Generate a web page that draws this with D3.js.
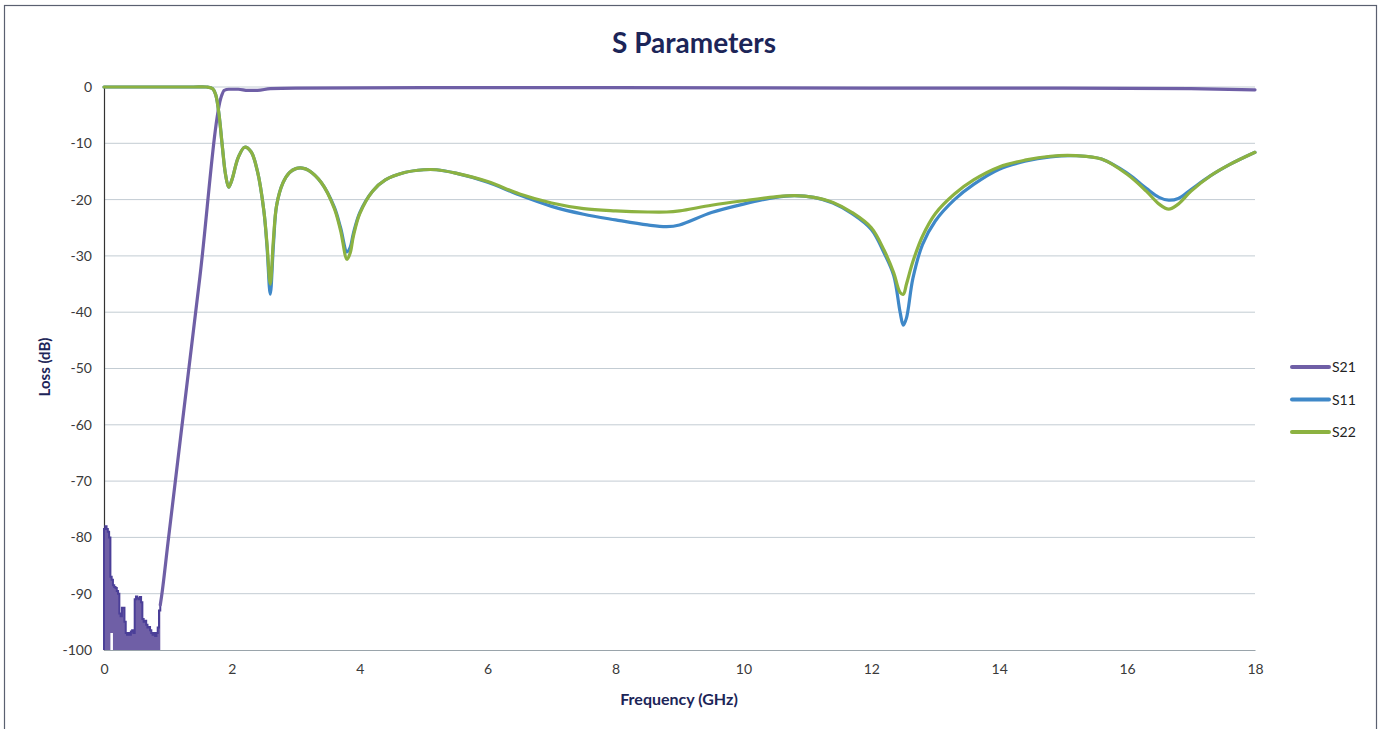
<!DOCTYPE html>
<html>
<head>
<meta charset="utf-8">
<script src="https://cdn.jsdelivr.net/npm/d3@7"></script>
<style>
  body { margin: 0; background: #fff; }
  svg { display: block; font-family: Lato, "Open Sans", sans-serif; }
</style>
</head>
<body>
<div id="chart"></div>
<script>
// Axis ticks
var xTicks = [0, 2, 4, 6, 8, 10, 12, 14, 16, 18],
    yTicks = [0, -10, -20, -30, -40, -50, -60, -70, -80, -90, -100];

// S21 noise floor below 0.9 GHz (peak / floor of each sample)
var noiseFreq  = [0.00, 0.02, 0.04, 0.06, 0.08, 0.10, 0.12, 0.14, 0.16, 0.18,
                  0.20, 0.22, 0.24, 0.26, 0.28, 0.30, 0.32, 0.34, 0.36, 0.38,
                  0.40, 0.42, 0.44, 0.46, 0.48, 0.50, 0.52, 0.54, 0.56, 0.58,
                  0.60, 0.62, 0.64, 0.66, 0.68, 0.70, 0.72, 0.74, 0.76, 0.78,
                  0.80, 0.82, 0.84, 0.86, 0.88],
    noisePeak  = [-78.5, -78, -78.5, -79, -80, -87, -87.5, -88.5, -88.8, -89,
                  -89.5, -90, -93.5, -94, -92.5, -92.5, -95, -97, -97.3, -97,
                  -97.3, -96.7, -96.5, -97, -91, -90.5, -90.8, -91, -90.6, -91.5,
                  -94.5, -95, -94.8, -95.5, -96, -95.9, -96.5, -97, -97.3, -97,
                  -97.5, -97, -96, -93, -92],
    noiseFloor = [-100, -100, -100, -100, -100, -97, -97, -100, -100, -100,
                  -100, -100, -100, -100, -100, -100, -100, -100, -100, -100,
                  -100, -100, -100, -100, -100, -100, -100, -100, -100, -100,
                  -100, -100, -100, -100, -100, -100, -100, -100, -100, -100,
                  -100, -100, -100, -100, -100];

// S21 above the noise floor
var s21Freq = [0.88, 0.90, 1.00, 1.20, 1.50, 1.84, 1.88, 1.95, 2.10, 2.25, 2.40, 2.60, 3.00, 5.00, 8.00, 12.0, 15.0, 17.0, 18.0],
    s21Loss = [-92, -90.5, -81, -62, -33.7, -1.5, -0.6, -0.4, -0.4, -0.6, -0.6, -0.3, -0.2, -0.1, -0.1, -0.2, -0.2, -0.3, -0.5];

// S11 / S22 share one frequency grid
var refFreq = [0, 0.8, 1.4, 1.6, 1.7, 1.75, 1.8, 1.85, 1.9, 1.95, 2.0, 2.1, 2.2, 2.3, 2.4, 2.5, 2.55, 2.6, 2.65, 2.7, 2.8, 2.9,
               3.0, 3.1, 3.2, 3.4, 3.6, 3.7, 3.8, 3.85, 3.9, 4.0, 4.2, 4.4, 4.7, 5.0, 5.2, 5.5, 6.0, 6.5, 7.0, 7.5,
               8.0, 8.5, 8.8, 9.0, 9.5, 10.0, 10.5, 10.8, 11.1, 11.4, 11.7, 12.0, 12.2, 12.35, 12.45, 12.5, 12.55, 12.65, 12.8, 13.0,
               13.3, 13.6, 14.0, 14.4, 14.8, 15.2, 15.6, 16.0, 16.3, 16.5, 16.65, 16.8, 17.0, 17.3, 17.6, 18.0];
var s11Loss = [0, 0, 0, 0, -0.3, -1.5, -5, -10.5, -15.5, -17.8, -16.5, -12.5, -10.7, -11.5, -15, -22, -28.5, -36.8, -28, -21, -17, -15.2,
               -14.5, -14.4, -14.8, -17, -21.3, -25, -29.3, -28.5, -26, -22.3, -18.5, -16.5, -15.2, -14.7, -14.7, -15.3, -16.9, -19.2, -21.2, -22.6,
               -23.6, -24.5, -24.8, -24.5, -22.3, -20.8, -19.6, -19.3, -19.6, -20.6, -22.5, -25.3, -29.5, -33.5, -40, -42.3, -41, -34, -28, -23.8,
               -20, -17.3, -14.6, -13.2, -12.4, -12.2, -12.8, -15.3, -18, -19.6, -20.1, -19.8, -18.2, -15.8, -13.8, -11.6];
var s22Loss = [0, 0, 0, 0, -0.3, -1.5, -5, -10.5, -15.5, -17.8, -16.5, -12.5, -10.7, -11.5, -15, -22, -28, -35, -27, -21, -17, -15.2,
               -14.5, -14.4, -14.8, -17, -21.5, -25.5, -30.6, -29.5, -26.5, -22.5, -18.5, -16.5, -15.2, -14.7, -14.7, -15.3, -16.8, -19, -20.6, -21.6,
               -22, -22.2, -22.2, -22, -21, -20.2, -19.5, -19.3, -19.6, -20.5, -22.3, -25, -29, -33, -36.5, -36.8, -35, -31, -26.5, -22.5,
               -19, -16.5, -14.2, -13, -12.3, -12.2, -12.8, -15.5, -18.5, -20.8, -21.7, -20.8, -18.5, -15.8, -13.8, -11.6];

var seriesNames = ['S21', 'S11', 'S22'],
    colors = ['#6f5fa6', '#3f88c8', '#8cb241'];

var width = 1380,
    height = 729;

var svg = d3.select('#chart').append('svg')
    .attr('width', width)
    .attr('height', height);

// chart frame
svg.append('rect')
    .attr('x', 4.5).attr('y', 5.5)
    .attr('width', 1372).attr('height', 730)
    .attr('fill', 'none')
    .attr('stroke', '#5a6070')
    .attr('stroke-width', 1.2);

var x = d3.scaleLinear().domain([0, 18]).range([104, 1255]),
    y = d3.scaleLinear().domain([-100, 0]).range([650, 87]);

// gridlines
svg.append('g').selectAll('line').data(yTicks.filter(function(d) { return d > -100; })).enter()
    .append('line')
    .attr('x1', x(0)).attr('x2', x(18))
    .attr('y1', function(d) { return y(d); })
    .attr('y2', function(d) { return y(d); })
    .attr('stroke', '#c3ccd3')
    .attr('stroke-width', 1);

// axes (plain hyphen for negatives, like the source)
var yAxis = svg.append('g')
    .attr('transform', 'translate(' + x(0) + ',0)')
    .call(d3.axisLeft(y).tickValues(yTicks).tickFormat(function(d) { return String(d); }).tickSize(0).tickPadding(12));
yAxis.select('.domain').attr('stroke', '#333').attr('stroke-width', 1.2);

var xAxis = svg.append('g')
    .attr('transform', 'translate(0,' + y(-100) + ')')
    .call(d3.axisBottom(x).tickValues(xTicks).tickFormat(function(d) { return String(d); }).tickSize(0).tickPadding(14));
xAxis.select('.domain').attr('stroke', '#9aa4ab').attr('stroke-width', 1.2);

svg.selectAll('.tick text')
    .attr('font-family', 'Lato, "Open Sans", sans-serif')
    .attr('font-size', 14)
    .attr('fill', '#3a3a3a');

// S21 noise region
var noise = noiseFreq.map(function(f, i) { return {f: f, hi: noisePeak[i], lo: noiseFloor[i]}; });

svg.append('path')
    .datum(noise)
    .attr('d', d3.area()
        .x(function(d) { return x(d.f); })
        .y0(function(d) { return y(d.lo); })
        .y1(function(d) { return y(d.hi); })
        .curve(d3.curveStepAfter))
    .attr('fill', colors[0]);

svg.append('path')
    .datum([{f: 0, hi: -100}].concat(noise))
    .attr('d', d3.line()
        .x(function(d) { return x(d.f); })
        .y(function(d) { return y(d.hi); })
        .curve(d3.curveStepAfter))
    .attr('fill', 'none')
    .attr('stroke', '#4b3f98')
    .attr('stroke-width', 2);

var line = d3.line()
    .x(function(d) { return x(d[0]); })
    .y(function(d) { return y(d[1]); })
    .curve(d3.curveCatmullRom.alpha(0.5));

var s21Line = d3.line()
    .x(function(d) { return x(d[0]); })
    .y(function(d) { return y(d[1]); })
    .curve(d3.curveMonotoneX);

var series = [
    d3.zip(s21Freq, s21Loss),
    d3.zip(refFreq, s11Loss),
    d3.zip(refFreq, s22Loss)
];

svg.append('g').selectAll('path').data(series).enter()
    .append('path')
    .attr('d', function(d, i) { return i === 0 ? s21Line(d) : line(d); })
    .attr('fill', 'none')
    .attr('stroke', function(d, i) { return colors[i]; })
    .attr('stroke-width', 3.2)
    .attr('stroke-linejoin', 'round')
    .attr('stroke-linecap', 'round');

// titles
svg.append('text')
    .attr('x', 694).attr('y', 53)
    .attr('text-anchor', 'middle')
    .attr('font-size', 28)
    .attr('font-weight', 'bold')
    .attr('fill', '#1c2558')
    .text('S Parameters');

svg.append('text')
    .attr('x', 679).attr('y', 705)
    .attr('text-anchor', 'middle')
    .attr('font-size', 16)
    .attr('font-weight', 'bold')
    .attr('fill', '#1c2558')
    .text('Frequency (GHz)');

svg.append('text')
    .attr('transform', 'translate(50,367) rotate(-90)')
    .attr('text-anchor', 'middle')
    .attr('font-size', 15)
    .attr('font-weight', 'bold')
    .attr('fill', '#1c2558')
    .text('Loss (dB)');

// legend
var legend = svg.append('g').selectAll('g').data(seriesNames).enter()
    .append('g')
    .attr('transform', function(d, i) { return 'translate(1292,' + (367 + i * 32.5) + ')'; });

legend.append('line')
    .attr('x1', 0).attr('x2', 37)
    .attr('stroke', function(d, i) { return colors[i]; })
    .attr('stroke-width', 4)
    .attr('stroke-linecap', 'round');

legend.append('text')
    .attr('x', 40).attr('y', 5)
    .attr('font-size', 14)
    .attr('fill', '#222')
    .text(function(d) { return d; });
</script>
</body>
</html>
